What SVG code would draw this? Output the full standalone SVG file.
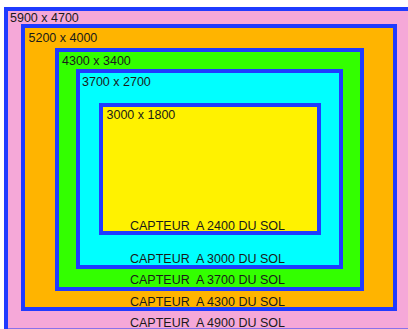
<svg xmlns="http://www.w3.org/2000/svg" width="408" height="329" viewBox="0 0 408 329">
<style>
.box{stroke:#1f3bff;stroke-width:4}
.t{font-family:"Liberation Sans",Arial,sans-serif;font-size:12.5px;fill:#1a1a1a}
</style>
<rect width="408" height="329" fill="#ffffff"/>
<g id="zone-5900">
<rect class="box" x="6" y="9" width="406" height="321.5" fill="#f5a8d8"/>
<text class="t" x="10" y="22">5900 x 4700</text>
<text class="t" x="130" y="327" xml:space="preserve">CAPTEUR  A 4900 DU SOL</text>
</g>
<g id="zone-5200">
<rect class="box" x="23" y="26" width="372" height="283" fill="#ffb400"/>
<text class="t" x="28.5" y="41.5">5200 x 4000</text>
<text class="t" x="130" y="306" xml:space="preserve">CAPTEUR  A 4300 DU SOL</text>
</g>
<g id="zone-4300">
<rect class="box" x="57" y="50" width="305" height="239" fill="#33ff00"/>
<text class="t" x="62" y="65">4300 x 3400</text>
<text class="t" x="130" y="284" xml:space="preserve">CAPTEUR  A 3700 DU SOL</text>
</g>
<g id="zone-3700">
<rect class="box" x="78" y="71" width="263" height="196" fill="#00ffff"/>
<text class="t" x="82" y="85.5">3700 x 2700</text>
<text class="t" x="130" y="263" xml:space="preserve">CAPTEUR  A 3000 DU SOL</text>
</g>
<g id="zone-3000">
<rect class="box" x="101" y="105" width="218" height="128" fill="#fff200"/>
<text class="t" x="106.5" y="119">3000 x 1800</text>
<text class="t" x="130" y="230" xml:space="preserve">CAPTEUR  A 2400 DU SOL</text>
</g>
<g id="connectors"/>
</svg>
